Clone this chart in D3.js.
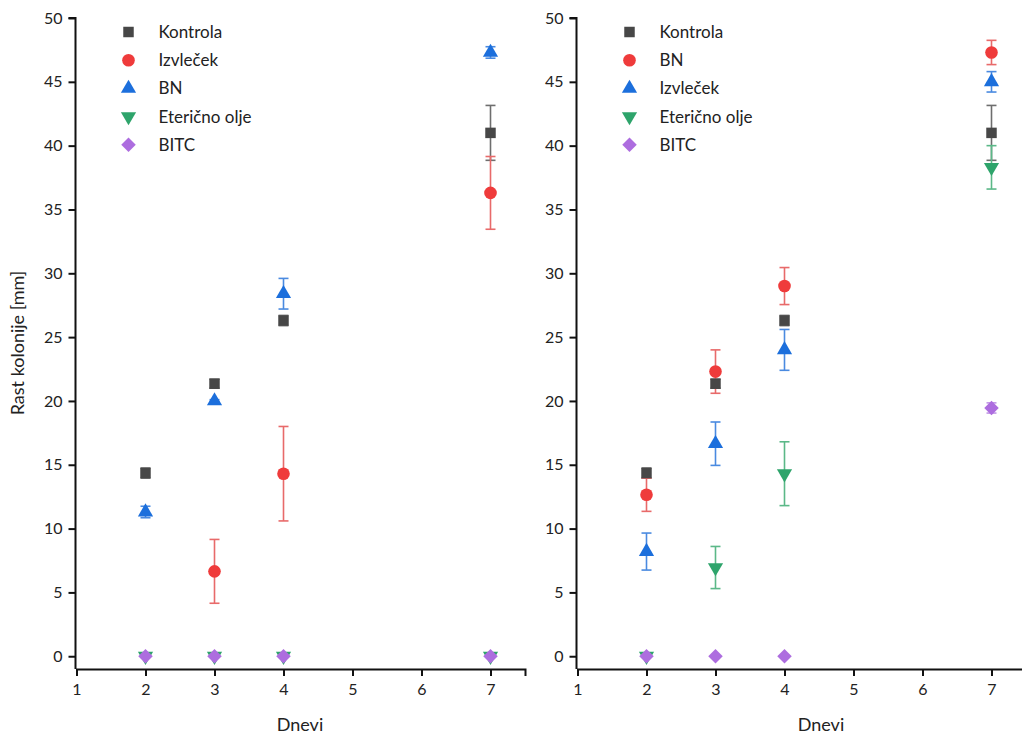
<!DOCTYPE html>
<html>
<head>
<meta charset="utf-8">
<script src="https://cdn.jsdelivr.net/npm/d3@7"></script>
<style>
  html, body { margin: 0; padding: 0; background: #fff; }
  svg { display: block; font-family: Lato, "Open Sans", sans-serif; }
</style>
</head>
<body>
<svg id="chart" width="1022" height="738"></svg>
<script>
// days on x
const days = [2, 3, 4, 7];
const xTicks = [1, 2, 3, 4, 5, 6, 7];
const yTicks = [0, 5, 10, 15, 20, 25, 30, 35, 40, 45, 50];

// left panel (null = no point)
const kontrola = [14.35, 21.35, 26.3, 41.0];
const kontrolaErr = [0.4, 0.35, 0.4, 2.15];
const izvlecekL = [null, 6.65, 14.3, 36.3];
const izvlecekLErr = [0, 2.5, 3.7, 2.85];
const bnL = [11.3, 20.0, 28.4, 47.3];
const bnLErr = [0.45, 0.1, 1.2, 0.45];
const eterL = [0, 0, 0, 0];
const eterLErr = [0, 0, 0, 0];
const bitcL = [0, 0, 0, 0];
const bitcLErr = [0, 0, 0, 0];

// right panel
const bnR = [12.65, 22.3, 29.0, 47.3];
const bnRErr = [1.3, 1.7, 1.45, 0.95];
const izvlecekR = [8.2, 16.65, 24.0, 45.0];
const izvlecekRErr = [1.45, 1.7, 1.6, 0.8];
const eterR = [0, 6.95, 14.3, 38.3];
const eterRErr = [0, 1.65, 2.5, 1.7];
const bitcR = [0, 0, 0, 19.45];
const bitcRErr = [0, 0, 0, 0.4];

const COL = {
  gray: '#474747', red: '#ef3b3b', blue: '#1c6fdc', green: '#2ea46b', purple: '#ad6ddf'
};
const ERRCOL = {
  gray: '#6e6e6e', red: '#e86a6a', blue: '#4a8ae0', green: '#5bb888', purple: '#c196e6'
};

const leftSeries = [
  { name: 'Kontrola', shape: 'square', c: 'gray', v: kontrola, e: kontrolaErr },
  { name: 'Izvleček', shape: 'circle', c: 'red', v: izvlecekL, e: izvlecekLErr },
  { name: 'BN', shape: 'up', c: 'blue', v: bnL, e: bnLErr },
  { name: 'Eterično olje', shape: 'down', c: 'green', v: eterL, e: eterLErr },
  { name: 'BITC', shape: 'diamond', c: 'purple', v: bitcL, e: bitcLErr },
];
const rightSeries = [
  { name: 'Kontrola', shape: 'square', c: 'gray', v: kontrola, e: kontrolaErr },
  { name: 'BN', shape: 'circle', c: 'red', v: bnR, e: bnRErr },
  { name: 'Izvleček', shape: 'up', c: 'blue', v: izvlecekR, e: izvlecekRErr },
  { name: 'Eterično olje', shape: 'down', c: 'green', v: eterR, e: eterRErr },
  { name: 'BITC', shape: 'diamond', c: 'purple', v: bitcR, e: bitcRErr },
];

const svg = d3.select('#chart');
const y = d3.scaleLinear().domain([-1, 50]).range([669, 18]);

function symPath(shape) {
  if (shape === 'square') return d3.symbol(d3.symbolSquare, 110)();
  if (shape === 'circle') return d3.symbol(d3.symbolCircle, 125)();
  if (shape === 'up' || shape === 'down') return d3.symbol(d3.symbolTriangle, 100)();
  return d3.symbol(d3.symbolSquare, 105)();
}
function symTransform(shape, cx, cy) {
  if (shape === 'down') return `translate(${cx},${cy}) rotate(180)`;
  if (shape === 'diamond') return `translate(${cx},${cy}) rotate(45)`;
  return `translate(${cx},${cy})`;
}

function drawPanel(x0, series, titleX) {
  const x = d3.scaleLinear().domain([1, 7.5]).range([x0, x0 + 448.5]);
  const g = svg.append('g');

  // x axis
  const xa = g.append('g').attr('transform', `translate(0,${y(-1)})`)
    .call(d3.axisBottom(x).tickValues(xTicks).tickFormat(d3.format('d')).tickSizeOuter(0).tickSize(7).tickPadding(8));
  // y axis
  const ya = g.append('g').attr('transform', `translate(${x0 - 1},0)`)
    .call(d3.axisLeft(y).tickValues(yTicks).tickSizeOuter(0).tickSize(7).tickPadding(6));
  [xa, ya].forEach((a) => {
    a.selectAll('.domain').attr('stroke', '#111').attr('stroke-width', 2);
    a.selectAll('.tick line').attr('stroke', '#111').attr('stroke-width', 2);
    a.selectAll('.tick text').attr('fill', '#222')
      .style('font-family', 'Lato, "Open Sans", sans-serif').style('font-size', '16px');
  });
  ya.select('.domain').attr('d', `M-7,${y(50)}H0V${y(-1)}`);

  // x title
  g.append('text').attr('x', titleX).attr('y', 731).attr('text-anchor', 'middle')
    .attr('fill', '#222').style('font-size', '18px').text('Dnevi');

  // error bars
  series.forEach((s) => {
    days.forEach((d, i) => {
      if (s.v[i] == null || !s.e[i]) return;
      const cx = x(d), top = y(s.v[i] + s.e[i]), bot = y(s.v[i] - s.e[i]);
      const col = ERRCOL[s.c];
      g.append('line').attr('x1', cx).attr('x2', cx).attr('y1', top).attr('y2', bot)
        .attr('stroke', col).attr('stroke-width', 1.6);
      [top, bot].forEach((yy) => {
        g.append('line').attr('x1', cx - 5).attr('x2', cx + 5).attr('y1', yy).attr('y2', yy)
          .attr('stroke', col).attr('stroke-width', 1.6);
      });
    });
  });

  // markers
  series.forEach((s) => {
    days.forEach((d, i) => {
      if (s.v[i] == null) return;
      g.append('path').attr('d', symPath(s.shape))
        .attr('transform', symTransform(s.shape, x(d), y(s.v[i])))
        .attr('fill', COL[s.c]);
    });
  });

  // legend
  series.forEach((s, k) => {
    const ly = 32 + k * 28.2;
    g.append('path').attr('d', symPath(s.shape))
      .attr('transform', symTransform(s.shape, x0 + 52, ly))
      .attr('fill', COL[s.c]);
    g.append('text').attr('x', x0 + 82).attr('y', ly + 6)
      .attr('fill', '#222').style('font-size', '17px').text(s.name);
  });
}

drawPanel(76.5, leftSeries, 300);
drawPanel(577.5, rightSeries, 821);

// y title
svg.append('text').attr('transform', 'translate(24,343) rotate(-90)')
  .attr('text-anchor', 'middle').attr('fill', '#222').style('font-size', '18px')
  .text('Rast kolonije [mm]');
</script>
</body>
</html>
